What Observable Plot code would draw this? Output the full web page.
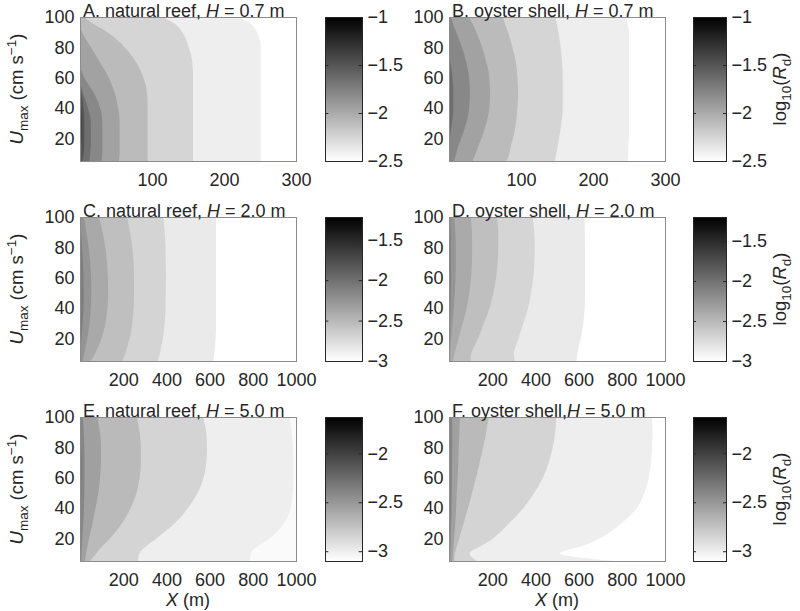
<!DOCTYPE html>
<html><head><meta charset="utf-8">
<script src="https://cdn.jsdelivr.net/npm/d3@7"></script>
<script src="https://cdn.jsdelivr.net/npm/@observablehq/plot@0.6"></script>
<style>
body{margin:0;background:#fff;}
#root{position:relative;width:800px;height:611px;overflow:hidden;background:#fff;}
#root > div{position:absolute;}
</style></head><body><div id="root"></div>
<script>
// ---------- data ----------
const U = [5, 10, 15, 20, 30, 40, 50, 60, 70, 80, 90, 95, 100];   // Umax sample levels of the contour boundaries
const yTicks = [20, 40, 60, 80, 100];
const xTicksShort = [100, 200, 300];
const xTicksLong = [200, 400, 600, 800, 1000];

const letters = ["A", "B", "C", "D", "E", "F"];
const kinds = ["natural reef", "oyster shell", "natural reef", "oyster shell", "natural reef", "oyster shell"];
const depths = ["0.7", "0.7", "2.0", "2.0", "5.0", "5.0"];

// contour boundaries (X in m at each U), outermost first; level = log10(Rd) of region left of boundary
const bandsA = [
  [251,251,251,251,251,251,251,251,251,251,246,238,222],
  [157,157,157,157,157,157,157,157,156,151,142,133,115],
  [94,94,94,94,94,94,93,88,78,62,38,20,6],
  [54,55,55,55,55,53,48,40,28,15,3,0,0],
  [30,31,31,31,31,28,19,6,0,0,0,0,0],
  [13,14,15,15,15,11,4,0,0,0,0,0,0],
  [3,5,6,6,6,5,2,0,0,0,0,0,0],
  [0,0,1.5,2,2.5,1.5,0,0,0,0,0,0,0]
];
const levelsA = [-2.4, -2.25, -2.1, -1.95, -1.8, -1.65, -1.5, -1.35];

const bandsB = [
  [248,249,249,250,250,250,250,250,250,250,250,248,246],
  [147,149,151,153,156,158,158,158,157,155,152,150,148],
  [80,84,86,89,93,95,96,95,93,88,82,78,75],
  [33,37,41,45,52,56,57,56,52,46,38,33,28],
  [7,10,13,17,24,28,29,28,24,18,10,6,3],
  [0,0,0,1,4,6,6,5,2,0,0,0,0]
];
const levelsB = [-2.4, -2.25, -2.1, -1.95, -1.8, -1.65];

const bandsC = [
  [618,622,625,628,630,630,630,630,630,630,630,630,630],
  [360,370,377,384,392,396,397,398,397,396,392,389,385],
  [195,210,220,230,242,248,250,250,248,242,232,225,218],
  [50,70,86,100,118,127,130,129,125,117,105,97,88],
  [12,20,27,34,44,50,52,51,47,40,30,24,18],
  [0,2,4,7,12,16,17,16,14,10,5,2,0]
];
const levelsC = [-2.85, -2.7, -2.55, -2.4, -2.25, -2.1];

const bandsD = [
  [590,595,602,610,622,628,630,630,630,630,629,628,628],
  [305,300,310,322,345,366,380,390,395,397,395,391,388],
  [98,103,118,135,162,188,205,218,225,228,228,225,222],
  [18,26,35,44,64,82,94,102,106,107,106,104,102],
  [2,4,7,10,16,22,27,30,31,31,29,27,25],
  [0,0,1,3,5,7,8,9,9,9,8,6,5]
];
const levelsD = [-2.85, -2.7, -2.55, -2.4, -2.25, -2.1];

const bandsE = [
  [787,790,825,880,945,975,985,988,988,985,980,975,970],
  [268,275,309,355,440,500,545,572,585,588,585,578,570],
  [45,75,105,140,195,235,262,276,282,282,276,270,262],
  [22,28,35,42,58,72,85,93,97,97,92,86,80],
  [5,7,9,11,15,18,20,21,21,20,17,15,12],
  [0,0,0,1,3,4,5,6,6,5,3,2,0]
];
const levelsE = [-3.0, -2.85, -2.7, -2.55, -2.4, -2.25];

const bandsF = [
  [776,515,620,700,800,870,905,925,935,940,942,941,940],
  [130,96,150,205,280,345,395,435,462,480,492,495,498],
  [24,28,37,48,68,88,107,125,142,158,172,178,185],
  [16,18,21,24,29,33,36,40,43,45,48,49,50],
  [5,6,7,8,10,12,13,14,14,15,15,15,15]
];
const levelsF = [-3.0, -2.85, -2.7, -2.55, -2.4];

const bgLevels = [-2.6, -2.6, -3.1, -3.1, -3.07, -3.2];   // region right of the outermost contour
const caxes = [[-2.5, -1], [-2.5, -1], [-3, -1.22], [-3, -1.2], [-3.1, -1.63], [-3.1, -1.63]];
const cbTicksA = [-2.5, -2, -1.5, -1];
const cbTicksC = [-3, -2.5, -2, -1.5];
const cbTicksE = [-3, -2.5, -2];

// ---------- drawing ----------
const FONT = "'Liberation Sans', Arial, Helvetica, sans-serif";
const INK = "#262626";
const TICK_FS = "18px";
const root = document.getElementById("root");
function place(node, left, top) {
  const d = document.createElement("div");
  d.style.left = left + "px"; d.style.top = top + "px";
  d.appendChild(node); root.appendChild(d);
}
const PW = 216, PH = 144, MT = 17, MB = 39;

function colorScale(caxis) {
  return {type: "linear", domain: caxis, range: ["#ffffff", "#000000"], interpolate: "rgb", clamp: true};
}

function panel(bands, levels, bg, caxis, xMax, xTicks) {
  const marks = [Plot.rect([bg], {x1: 0, x2: xMax, y1: 5, y2: 100, fill: d => d})];
  bands.forEach((b, i) => {
    const pts = U.map((u, j) => ({u, x: b[j], v: levels[i]}));
    marks.push(Plot.areaX(pts, {y: "u", x1: 0, x2: "x", fill: "v", curve: "monotone-y"}));
  });
  marks.push(Plot.frame({stroke: "#8c8c8c"}));
  return Plot.plot({
    width: 80 + PW + 30, height: 200,
    marginLeft: 80, marginRight: 30, marginTop: MT, marginBottom: MB,
    style: {fontSize: TICK_FS, fontFamily: FONT, color: INK, background: "transparent"},
    x: {domain: [0, xMax], ticks: xTicks, tickFormat: d => String(d), tickSize: 0, tickPadding: 12, label: null},
    y: {domain: [5, 100], ticks: yTicks, tickFormat: d => String(d), tickSize: 0, tickPadding: 6, label: null},
    color: colorScale(caxis),
    marks
  });
}

function colorbar(caxis, ticks, w) {
  const [lo, hi] = caxis, N = 144, h = (hi - lo) / N;
  const cells = d3.range(N).map(i => lo + h * (i + 0.5));
  return Plot.plot({
    width: w + 55, height: 200,
    marginLeft: 0, marginRight: 55, marginTop: MT, marginBottom: MB,
    style: {fontSize: TICK_FS, fontFamily: FONT, color: INK, background: "transparent"},
    x: {domain: [0, 1], axis: null},
    y: {domain: [lo, hi], ticks, tickFormat: d => (d < 0 ? "\u2212" : "") + Math.abs(d),
        axis: "right", tickSize: 0, tickPadding: 5, label: null},
    color: colorScale(caxis),
    marks: [
      Plot.rect(cells, {x1: 0, x2: 1, y1: d => d - h * 0.5, y2: d => Math.min(hi, d + h * 0.6), fill: d => d, shapeRendering: "crispEdges"}),
      Plot.ruleY(ticks, {x1: 0, x2: 0.09, stroke: INK}),
      Plot.ruleY(ticks, {x1: 0.91, x2: 1, stroke: INK}),
      Plot.frame({stroke: INK})
    ]
  });
}

const allBands = [bandsA, bandsB, bandsC, bandsD, bandsE, bandsF];
const allLevels = [levelsA, levelsB, levelsC, levelsD, levelsE, levelsF];
const allCbTicks = [cbTicksA, cbTicksA, cbTicksC, cbTicksC, cbTicksE, cbTicksE];

for (let k = 0; k < 6; k++) {
  const row = Math.floor(k / 2), col = k % 2;
  const xMax = row === 0 ? 300 : 1000;
  const xt = row === 0 ? xTicksShort : xTicksLong;
  place(panel(allBands[k], allLevels[k], bgLevels[k], caxes[k], xMax, xt), col === 0 ? 0 : 369, row * 200);
}
for (let k = 0; k < 6; k++) {
  const row = Math.floor(k / 2), col = k % 2;
  place(colorbar(caxes[k], allCbTicks[k], col === 0 ? 37 : 33), col === 0 ? 325 : 693, row * 200);
}

// ---------- text overlay ----------
let t = `<svg xmlns="http://www.w3.org/2000/svg" width="800" height="611" style="position:absolute;left:0;top:0;font-family:${FONT};fill:${INK}">`;
for (let k = 0; k < 6; k++) {
  const row = Math.floor(k / 2), col = k % 2;
  const x = col === 0 ? 83 : 452, y = row * 200 + 16.5;
  const sep = k === 5 ? "," : ", ";
  t += `<text x="${x}" y="${y}" font-size="18" xml:space="preserve">${letters[k]}. ${kinds[k]}${sep}<tspan font-style="italic">H</tspan> = ${depths[k]} m</text>`;
}
for (let row = 0; row < 3; row++) {
  const cy = row * 200 + 89;
  t += `<text transform="translate(23,${cy}) rotate(-90)" text-anchor="middle" font-size="18.5"><tspan font-style="italic">U</tspan><tspan dy="5" font-size="13.5">max</tspan><tspan dy="-5"> (cm s</tspan><tspan dy="-7" font-size="13.5">\u22121</tspan><tspan dy="7">)</tspan></text>`;
  t += `<text transform="translate(786,${cy}) rotate(-90)" text-anchor="middle" font-size="18.5">log<tspan dy="5" font-size="13.5">10</tspan><tspan dy="-5">(</tspan><tspan font-style="italic">R</tspan><tspan dy="5" font-size="13.5">d</tspan><tspan dy="-5">)</tspan></text>`;
}
for (const cx of [188, 557]) {
  t += `<text x="${cx}" y="606" text-anchor="middle" font-size="18"><tspan font-style="italic">X</tspan> (m)</text>`;
}
t += `</svg>`;
const ovDiv = document.createElement("div");
ovDiv.style.left = "0px"; ovDiv.style.top = "0px"; ovDiv.style.pointerEvents = "none";
ovDiv.innerHTML = t;
root.appendChild(ovDiv);
</script></body></html>
